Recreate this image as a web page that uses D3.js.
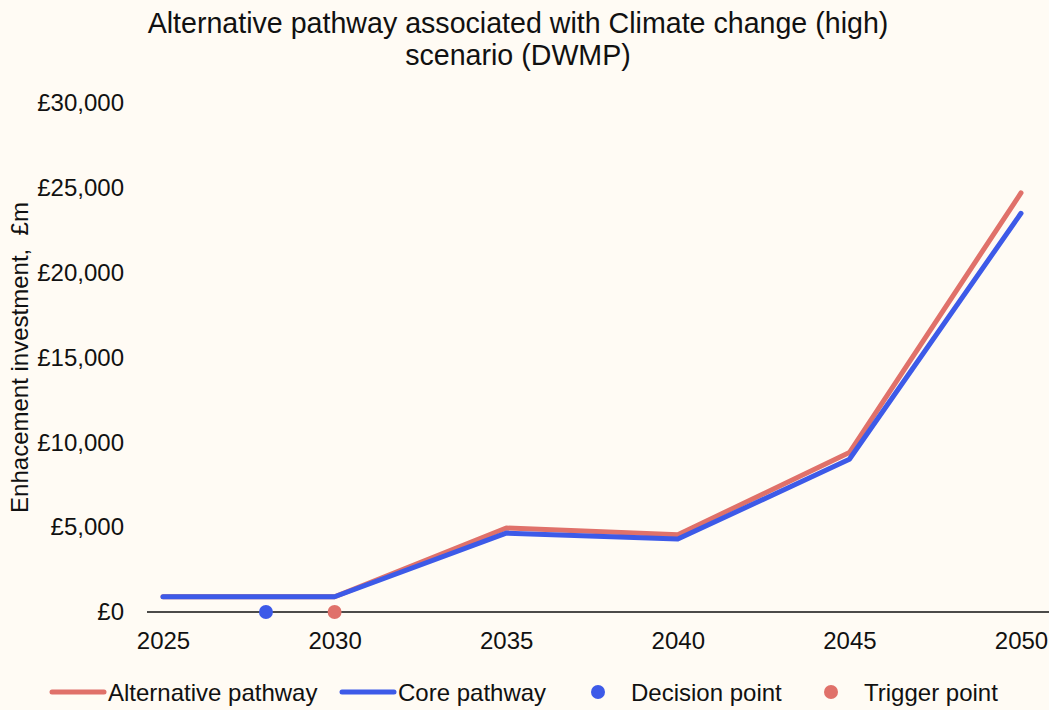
<!DOCTYPE html>
<html>
<head>
<meta charset="utf-8">
<script src="https://cdn.jsdelivr.net/npm/d3@7"></script>
<style>
  body { margin: 0; background: #fffbf4; }
  svg { display: block; font-family: "Liberation Sans", Arial, sans-serif; }
</style>
</head>
<body>
<div class="chart"></div>
<script>
"use strict";

// chart data
var years = [2025, 2030, 2035, 2040, 2045, 2050];
var alternativeValues = [900, 900, 4950, 4550, 9400, 24700];
var coreValues = [900, 900, 4650, 4300, 9000, 23500];
var decisionYears = [2028];
var triggerYears = [2030];
var yTicks = [0, 5000, 10000, 15000, 20000, 25000, 30000];

var titleLines = ["Alternative pathway associated with Climate change (high)", "scenario (DWMP)"];
var yLabel = "Enhacement investment,  £m";
var legendItems = [
    { label: "Alternative pathway", type: "line", color: "#e0716a" },
    { label: "Core pathway", type: "line", color: "#3d5ae8" },
    { label: "Decision point", type: "dot", color: "#3d5ae8" },
    { label: "Trigger point", type: "dot", color: "#e0716a" }
];

var width = 1049, height = 710;
var margin = { top: 103, left: 147, bottom: 98, right: 28 };
var fontSize = "24px";

var svg = d3.select(".chart").append("svg")
    .attr("width", width)
    .attr("height", height);

svg.append("rect").attr("width", width).attr("height", height).attr("fill", "#fffbf4");

var x = d3.scaleLinear()
    .domain([2025, 2050])
    .range([163, 1021]);

var y = d3.scaleLinear()
    .domain([0, 30000])
    .range([height - margin.bottom, margin.top]);

// title
svg.append("g").selectAll("text")
    .data(titleLines)
    .enter()
    .append("text")
    .attr("x", 518)
    .attr("y", function(d, i) { return 33 + i * 32; })
    .attr("text-anchor", "middle")
    .attr("font-size", "28.6px")
    .attr("fill", "#111")
    .text(function(d) { return d; });

// y axis (labels only)
var fmt = function(d) { return "£" + d3.format(",")(d); };
var yAxis = d3.axisLeft(y).tickValues(yTicks).tickFormat(fmt).tickSize(0).tickPadding(23);
var yG = svg.append("g")
    .attr("transform", "translate(" + margin.left + ",0)")
    .call(yAxis);
yG.select(".domain").remove();
yG.selectAll("text").attr("font-size", fontSize).attr("fill", "#111").attr("font-family", "Liberation Sans, Arial, sans-serif");

// x axis
var xAxis = d3.axisBottom(x).tickValues(years).tickFormat(d3.format("d")).tickSize(0).tickPadding(20);
var xG = svg.append("g")
    .attr("transform", "translate(0," + y(0) + ")")
    .call(xAxis);
xG.select(".domain").remove();
xG.selectAll("text").attr("font-size", fontSize).attr("fill", "#111").attr("font-family", "Liberation Sans, Arial, sans-serif");

svg.append("line")
    .attr("x1", margin.left)
    .attr("x2", width)
    .attr("y1", y(0))
    .attr("y2", y(0))
    .attr("stroke", "#111")
    .attr("stroke-width", 1.5);

// y label
svg.append("text")
    .attr("transform", "translate(28," + ((margin.top + y(0)) / 2) + ") rotate(-90)")
    .attr("text-anchor", "middle")
    .attr("font-size", fontSize)
    .attr("fill", "#111")
    .style("white-space", "pre")
    .text(yLabel);

// lines
var line = d3.line()
    .x(function(d, i) { return x(years[i]); })
    .y(function(d) { return y(d); });

svg.append("path")
    .datum(alternativeValues)
    .attr("d", line)
    .attr("fill", "none")
    .attr("stroke", legendItems[0].color)
    .attr("stroke-width", 5)
    .attr("stroke-linecap", "round")
    .attr("stroke-linejoin", "round");

svg.append("path")
    .datum(coreValues)
    .attr("d", line)
    .attr("fill", "none")
    .attr("stroke", legendItems[1].color)
    .attr("stroke-width", 5)
    .attr("stroke-linecap", "round")
    .attr("stroke-linejoin", "round");

// points
svg.selectAll(".decision")
    .data(decisionYears)
    .enter()
    .append("circle")
    .attr("class", "decision")
    .attr("cx", function(d) { return x(d); })
    .attr("cy", y(0))
    .attr("r", 7)
    .attr("fill", legendItems[2].color);

svg.selectAll(".trigger")
    .data(triggerYears)
    .enter()
    .append("circle")
    .attr("class", "trigger")
    .attr("cx", function(d) { return x(d); })
    .attr("cy", y(0))
    .attr("r", 7)
    .attr("fill", legendItems[3].color);

// legend
var legendX = [50, 340, 598, 831];
var legend = svg.append("g").attr("transform", "translate(0,692)");
var items = legend.selectAll(".item")
    .data(legendItems)
    .enter()
    .append("g")
    .attr("class", "item")
    .attr("transform", function(d, i) { return "translate(" + legendX[i] + ",0)"; });

items.filter(function(d) { return d.type == "line"; })
    .append("line")
    .attr("x1", 2).attr("x2", 54)
    .attr("y1", 0).attr("y2", 0)
    .attr("stroke", function(d) { return d.color; })
    .attr("stroke-width", 5)
    .attr("stroke-linecap", "round");

items.filter(function(d) { return d.type == "dot"; })
    .append("circle")
    .attr("r", 7)
    .attr("fill", function(d) { return d.color; });

items.append("text")
    .attr("x", function(d) { return d.type == "line" ? 58 : 33; })
    .attr("y", 9)
    .attr("font-size", fontSize)
    .attr("fill", "#111")
    .text(function(d) { return d.label; });
</script>
</body>
</html>
